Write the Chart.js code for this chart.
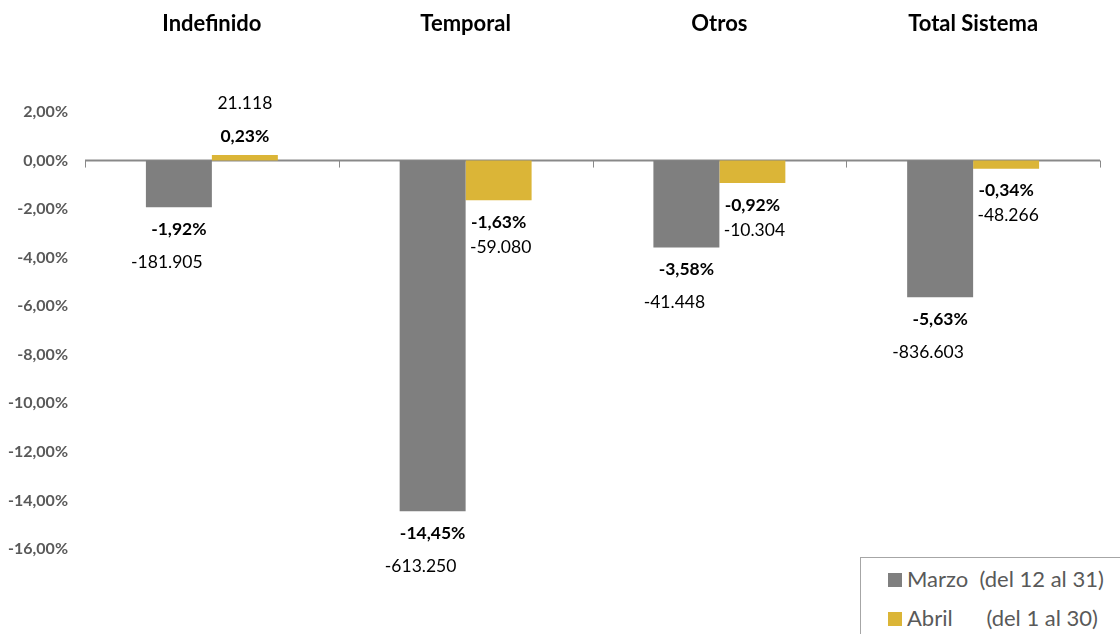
<!DOCTYPE html>
<html>
<head>
<meta charset="utf-8">
<script src="https://cdn.jsdelivr.net/npm/chart.js@4/dist/chart.umd.min.js"></script>
<style>
    html, body { margin: 0; padding: 0; background: #fff; }
    #wrap { position: relative; width: 1120px; height: 634px; }
    #legend {
        position: absolute; left: 860px; top: 557px; width: 270px; height: 90px;
        border: 1px solid #a6a6a6; background: #fff; box-sizing: border-box;
        font-family: Lato, sans-serif; font-size: 22px; color: #595959;
    }
    #legend div { position: absolute; left: 27px; white-space: pre; line-height: 26px; }
    #legend span { display: inline-block; width: 14px; height: 14px; margin-right: 5px; vertical-align: 0px; }
</style>
</head>
<body>
<div id="wrap">
    <canvas id="afilChart" width="1120" height="634"></canvas>
    <div id="legend"></div>
</div>
<script>
const categories = ['Indefinido', 'Temporal', 'Otros', 'Total Sistema'];
const marzoPct = [-1.92, -14.45, -3.58, -5.63];
const abrilPct = [0.23, -1.63, -0.92, -0.34];
const marzoAfiliados = [-181905, -613250, -41448, -836603];
const abrilAfiliados = [21118, -59080, -10304, -48266];
const legendLabels = ['Marzo  (del 12 al 31)', 'Abril      (del 1 al 30)'];

const GRAY = '#7f7f7f';
const GOLD = '#dbb537';
const FONT = "Lato, sans-serif";

function fmtPct(v) {
    if (Math.abs(v) < 1e-9) v = 0;
    return v.toFixed(2).replace('.', ',') + '%';
}

function fmtNum(v) {
    const s = Math.abs(v).toString().replace(/\B(?=(\d{3})+(?!\d))/g, '.');
    return (v < 0 ? '-' : '') + s;
}

// zero line plus the small tick marks between categories
const axisPlugin = {
    id: 'zeroAxis',
    beforeDatasetsDraw(chart) {
        const ctx = chart.ctx;
        const y0 = chart.scales.y.getPixelForValue(0);
        const area = chart.chartArea;
        ctx.save();
        ctx.strokeStyle = '#898989';
        ctx.lineWidth = 2;
        ctx.beginPath();
        ctx.moveTo(area.left, y0);
        ctx.lineTo(area.right, y0);
        ctx.stroke();
        ctx.lineWidth = 1;
        const n = categories.length;
        for (let i = 0; i <= n; i++) {
            const px = Math.round(area.left + (area.right - area.left) * i / n) + 0.5;
            ctx.beginPath();
            ctx.moveTo(px, y0);
            ctx.lineTo(px, y0 + 7);
            ctx.stroke();
        }
        ctx.restore();
    }
};

// two labels per bar: bold percentage and number of afiliados
const labelPlugin = {
    id: 'barLabels',
    afterDatasetsDraw(chart) {
        const ctx = chart.ctx;
        ctx.save();
        ctx.textAlign = 'center';
        ctx.textBaseline = 'middle';
        chart.data.datasets.forEach((ds, di) => {
            const meta = chart.getDatasetMeta(di);
            const gap = di === 0 ? 33 : 25;
            const shift = di === 0 ? -12 : 2;
            meta.data.forEach((bar, i) => {
                const v = ds.data[i];
                const n = ds.afiliados[i];
                let yPct, yNum;
                if (v >= 0) {
                    yPct = bar.y - 19;
                    yNum = bar.y - 52;
                } else {
                    yPct = bar.y + 22;
                    yNum = yPct + gap;
                }
                ctx.fillStyle = '#000';
                ctx.font = 'bold 17.5px ' + FONT;
                ctx.fillText(fmtPct(v), bar.x, yPct);
                ctx.font = '17.5px ' + FONT;
                ctx.fillText(fmtNum(n), bar.x + (v < 0 ? shift : 0), yNum);
            });
        });
        ctx.restore();
    }
};

const ctx = document.getElementById('afilChart').getContext('2d');
const afilChart = new Chart(ctx, {
    type: 'bar',
    data: {
        labels: categories,
        datasets: [
            {
                label: legendLabels[0],
                data: marzoPct,
                afiliados: marzoAfiliados,
                backgroundColor: GRAY,
                borderWidth: 0
            },
            {
                label: legendLabels[1],
                data: abrilPct,
                afiliados: abrilAfiliados,
                backgroundColor: GOLD,
                borderWidth: 0
            }
        ]
    },
    options: {
        responsive: false,
        animation: false,
        layout: { padding: { left: 0, right: 20, top: 0, bottom: 85 } },
        datasets: {
            bar: { categoryPercentage: 0.52, barPercentage: 1 }
        },
        plugins: {
            legend: { display: false },
            tooltip: { enabled: false }
        },
        scales: {
            x: {
                position: 'top',
                grid: { display: false, drawTicks: false },
                border: { display: false },
                ticks: {
                    padding: 75,
                    color: '#000',
                    font: { family: FONT, size: 22, weight: 'bold' }
                },
                afterFit(scale) { scale.height = 112; }
            },
            y: {
                min: -16,
                max: 2,
                grid: { display: false, drawTicks: false },
                border: { display: false },
                ticks: {
                    stepSize: 2,
                    padding: 17,
                    color: '#595959',
                    font: { family: FONT, size: 16, weight: 'bold' },
                    callback: v => fmtPct(v)
                },
                afterFit(scale) { scale.width = 85; }
            }
        }
    },
    plugins: [axisPlugin, labelPlugin]
});

// legend box in the bottom right corner
const legend = document.getElementById('legend');
afilChart.data.datasets.forEach((ds, i) => {
    const row = document.createElement('div');
    row.style.top = (i === 0 ? 8 : 47) + 'px';
    const sw = document.createElement('span');
    sw.style.background = ds.backgroundColor;
    row.appendChild(sw);
    row.appendChild(document.createTextNode(ds.label));
    legend.appendChild(row);
});
</script>
</body>
</html>
